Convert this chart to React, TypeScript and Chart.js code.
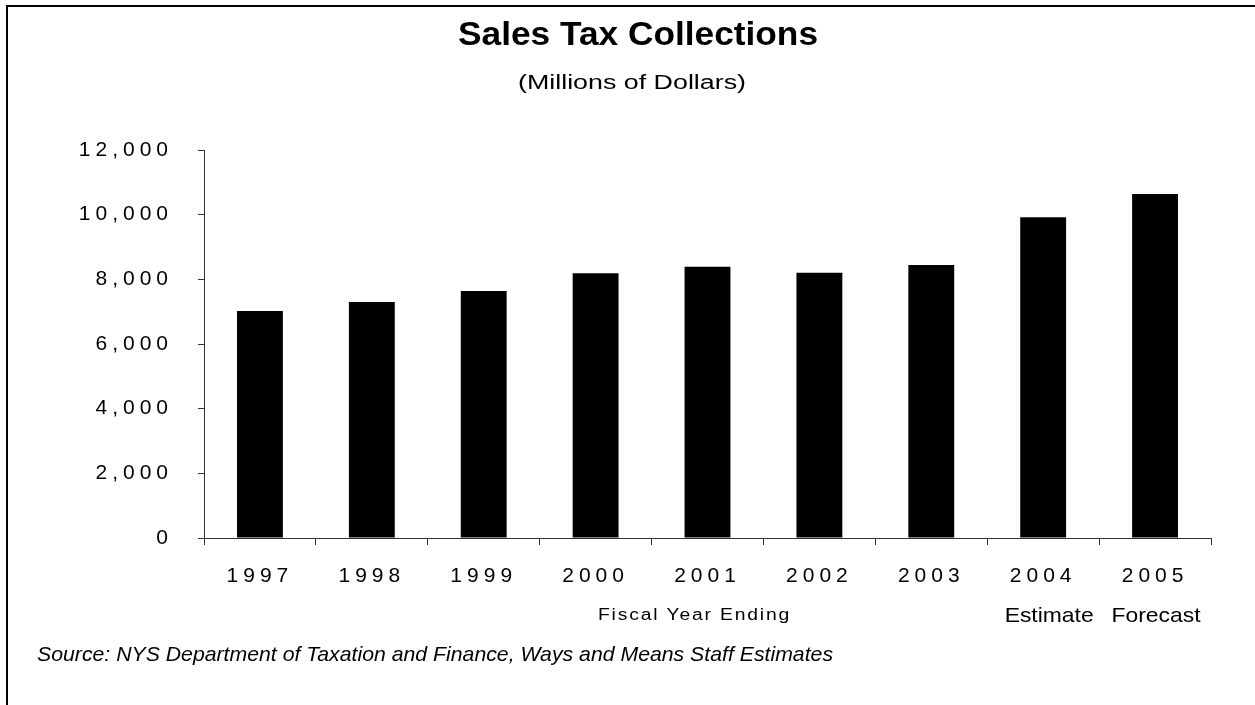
import React, { useEffect, useRef } from "react";
import { Chart, registerables } from "chart.js";

Chart.register(...registerables);

const categories = ["1997", "1998", "1999", "2000", "2001", "2002", "2003", "2004", "2005"];
const collections = [7020, 7300, 7640, 8190, 8390, 8200, 8440, 9920, 10640];
const yMin = 0;
const yMax = 12000;
const yStep = 2000;

const titleText = "Sales Tax Collections";
const subtitleText = "(Millions of Dollars)";
const axisTitleText = "Fiscal Year Ending";
const noteLabels = ["Estimate", "Forecast"];
const noteCategories = ["2004", "2005"];
const sourceText =
  "Source: NYS Department of Taxation and Finance, Ways and Means Staff Estimates";

const FONT = "'Liberation Sans', Arial, sans-serif";

function drawFitted(
  ctx: CanvasRenderingContext2D,
  text: string,
  font: string,
  x: number,
  baseline: number,
  width: number,
  align: "left" | "center",
  spacing = "0px"
) {
  ctx.save();
  ctx.font = font;
  (ctx as any).letterSpacing = spacing;
  ctx.textAlign = "left";
  ctx.textBaseline = "alphabetic";
  ctx.fillStyle = "#000";
  const w = ctx.measureText(text).width;
  const sx = width / w;
  const left = align === "center" ? x - width / 2 : x;
  ctx.translate(left, baseline);
  ctx.scale(sx, 1);
  ctx.fillText(text, 0, 0);
  ctx.restore();
}

const decorPlugin = {
  id: "decor",
  beforeDraw(chart: any) {
    (chart.ctx as any).letterSpacing = "5px";
  },
  afterDraw(chart: any) {
    const ctx: CanvasRenderingContext2D = chart.ctx;
    ctx.save();
    (ctx as any).letterSpacing = "0px";
    ctx.fillStyle = "#000";
    ctx.fillRect(6, 5, 1249, 2);
    ctx.fillRect(6, 5, 2, 700);
    drawFitted(ctx, titleText, `bold 33px ${FONT}`, 638, 45, 360, "center");
    drawFitted(ctx, subtitleText, `20px ${FONT}`, 632, 89, 228, "center");
    drawFitted(ctx, axisTitleText, `16px ${FONT}`, 598, 620, 193, "left", "1.5px");
    const xs = chart.scales.x;
    const offsets = [6, 1];
    noteLabels.forEach((t, i) => {
      const idx = categories.indexOf(noteCategories[i]);
      const cx = xs.getPixelForValue(idx) + offsets[i];
      drawFitted(ctx, t, `21px ${FONT}`, cx, 622, 89, "center");
    });
    drawFitted(ctx, sourceText, `italic 21px ${FONT}`, 37, 661, 796, "left");
    ctx.restore();
  },
};

export default function App() {
  const ref = useRef<HTMLCanvasElement | null>(null);
  useEffect(() => {
    if (!ref.current) return;
    const chart = new Chart(ref.current, {
      type: "bar",
      data: {
        labels: categories,
        datasets: [
          {
            data: collections,
            backgroundColor: "#000",
            borderWidth: 0,
            categoryPercentage: 1,
            barPercentage: 0.41,
          },
        ],
      },
      options: {
        responsive: false,
        animation: false,
        events: [],
        layout: { padding: { top: 150, right: 44, bottom: 97, left: 0 } },
        plugins: {
          legend: { display: false },
          title: { display: false },
          tooltip: { enabled: false },
        },
        scales: {
          x: {
            grid: {
              offset: true,
              drawOnChartArea: false,
              drawTicks: true,
              tickLength: 7,
              color: "#333",
            },
            border: { display: true, color: "#333", width: 1 },
            ticks: {
              color: "#000",
              font: { family: FONT, size: 21 },
              padding: 19,
              maxRotation: 0,
            },
            afterFit: (s: any) => {
              s.height = 70;
            },
          },
          y: {
            min: yMin,
            max: yMax,
            grid: {
              drawOnChartArea: false,
              drawTicks: true,
              tickLength: 6,
              color: "#333",
            },
            border: { display: true, color: "#333", width: 1 },
            ticks: {
              stepSize: yStep,
              color: "#000",
              font: { family: FONT, size: 21 },
              padding: 25,
            },
            afterFit: (s: any) => {
              s.width = 204;
            },
          },
        },
      },
      plugins: [decorPlugin],
    });
    return () => chart.destroy();
  }, []);
  return (
    <canvas
      ref={ref}
      width={1255}
      height={705}
      style={{ position: "absolute", left: 0, top: 0, width: 1255, height: 705, background: "#fff" }}
    />
  );
}
